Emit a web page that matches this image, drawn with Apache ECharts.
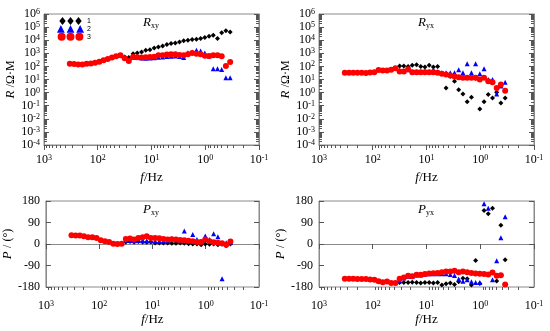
<!DOCTYPE html>
<html><head><meta charset="utf-8">
<script src="https://cdn.jsdelivr.net/npm/echarts@6/dist/echarts.min.js"></script>
<style>html,body{margin:0;padding:0;background:#fff}#c{width:550px;height:331px}</style>
</head><body><div id="c"></div>
<script>
// ---- frequencies (Hz) ----
const FREQ_3 = [331,276,231,193,161,134,112,93.4,78.0,65.1,54.3,45.4,37.8,31.6,26.4,22.0,18.4,15.3,12.8,10.7,8.91,7.44,6.21,5.18,4.33,3.61,3.01,2.52,2.10,1.75,1.46,1.22,1.02,0.850,0.710,0.592,0.494,0.413,0.344];
const FREQ_12 = [31.6,26.4,22.0,18.4,15.3,12.8,10.7,8.91,7.44,6.21,5.18,4.33,3.61,3.01,2.52,2.10,1.75,1.46,1.22,1.02,0.850,0.710,0.592,0.494,0.413,0.344];

// ---- apparent resistivity, log10(ohm·m) ----
const RXY_1_LOG = [2.72,2.67,2.97,3.03,3.10,3.23,3.28,3.41,3.49,3.56,3.67,3.74,3.79,3.87,3.95,4.0,4.05,4.08,4.13,4.21,4.31,4.38,4.13,4.56,4.72,4.62];
const RXY_2_LOG = [2.7,2.45,2.7,2.68,2.65,2.62,2.64,2.66,2.7,2.72,2.75,2.78,2.8,2.75,2.67,3.05,3.10,3.23,3.18,3.03,2.8,1.82,1.82,1.77,1.13,1.13];
const RXY_3_LOG = [2.21,2.18,2.15,2.15,2.21,2.23,2.28,2.36,2.46,2.56,2.67,2.77,2.85,2.62,2.41,2.72,2.69,2.67,2.69,2.72,2.74,2.85,2.85,2.90,2.92,2.92,2.87,2.85,2.92,3.03,2.97,2.92,2.82,2.79,2.85,2.85,2.77,2.03,2.33];
const RYX_1_LOG = [2.03,2.03,2.0,2.08,2.13,2.0,1.95,2.08,1.95,2.0,1.45,0.36,1.25,0.87,0.21,-0.1,-0.69,-0.36,1.1,-1.26,-0.69,-0.15,-0.41,0.03,-0.79,-0.41];
const RYX_2_LOG = [1.7,1.65,1.75,1.6,1.6,1.6,1.65,1.6,1.74,1.6,1.51,1.51,1.51,1.51,1.74,1.51,2.21,1.51,2.21,1.44,1.82,1.0,1.0,-0.1,0.5,0.79];
const RYX_3_LOG = [1.51,1.51,1.51,1.51,1.51,1.49,1.54,1.56,1.72,1.69,1.69,1.74,1.85,1.62,1.62,1.79,1.56,1.56,1.56,1.56,1.56,1.56,1.51,1.44,1.38,1.31,1.23,1.18,1.13,1.13,1.13,1.13,1.0,1.13,0.87,0.79,0.36,0.62,0.15];

// ---- phase (degrees) ----
const PXY_1 = [8.5,10,8.5,10,8.5,7,8.5,4.3,4.3,4.3,4.3,2.8,2.8,4.3,2.8,1.4,0,0,-2.8,0,-1.4,0,-2.8,-1.4,-7,0];
const PXY_2 = [16,15,14,15,14,14,14,13,12,12,13,23,21,12,54,12,40,18.5,10,33,18.5,43,30,-145,5,8];
const PXY_3 = [37,35.5,35.5,32.7,28.4,28.4,25.6,15.6,11.4,8.5,1.4,0,1.4,21,22.7,18.5,25.6,28.4,32,25.6,25.6,24,21,18.5,20,18.5,17,15.6,14,11.4,8.5,8.5,18.5,11.4,7,5.7,3,-3,10];
const PYX_1 = [-161,-161,-161,-160,-161,-163,-161,-161,-163,-161,-172,-166,-163,-170,-158,-143,-145,-172,-69,-165,140,127,150,-155,79,-66];
const PYX_2 = [-154,-142,-135,-136,-130,-130,-127,-125,-125,-125,-125,-125,-128,-132,-147,-156,-150,-158,-161,-161,168,150,-150,-70,26,114];
const PYX_3 = [-145,-145,-145,-146,-146,-147,-149,-150,-156,-160,-157,-163,-163,-145,-140,-133,-135,-129,-129,-126,-124,-122,-121,-118,-115,-115,-112,-118,-115,-118,-121,-124,-125,-126,-128,-119,-133,-131,-170];

// ---- axes / ticks ----
const X_RANGE = [0.1, 1000];
const R_RANGE = [1e-4, 1e6];
const P_RANGE = [-180, 180];
const P_INTERVAL = 90;
const MINOR_MULT = [2,3,4,5,6,7,8,9];
const X_DECADES = [0.1,1,10,100];
const R_DECADES = [1e-4,1e-3,1e-2,1e-1,1,10,100,1e3,1e4,1e5];
const SERIES_NAMES = ['1','2','3'];
const COLORS = ['#000000','#0000ff','#ff0000'];
const SYMBOLS = ['diamond','triangle','circle'];
const SYMBOL_SIZES = [5,5,6];
const TITLES = [['R','xy'],['R','yx'],['P','xy'],['P','yx']];

const MINOR_X = [];
X_DECADES.forEach(d => MINOR_MULT.forEach(m => MINOR_X.push(d*m)));
const MINOR_R = [];
R_DECADES.forEach(d => MINOR_MULT.forEach(m => MINOR_R.push(d*m)));

const FONT = 'Liberation Serif';
const AX = '#8a8a8a';
const TK = '#555';

const GRIDS = [
  {left:44, top:14, width:215, height:131},
  {left:319, top:14, width:215, height:131},
  {left:44, top:201, width:215, height:86},
  {left:319, top:201, width:215, height:86}
];

const powRich = {
  b:{fontFamily:FONT, fontSize:12, color:'#000'},
  s:{fontFamily:FONT, fontSize:8, color:'#000', verticalAlign:'top'}
};
function powFmt(v){ const e = Math.round(Math.log10(v)); return '{b|10}{s|' + e + '}'; }

const xAxes = GRIDS.map((g,i) => ({
  type:'log', gridIndex:i, min:X_RANGE[0], max:X_RANGE[1], inverse:true, logBase:10,
  axisLine:{show:true, lineStyle:{color:AX}},
  axisTick:{show:true, inside:false, length:5, lineStyle:{color:TK}},
  splitLine:{show:false},
  axisLabel:{margin: i<2 ? 9 : 13, formatter:powFmt, rich:powRich},
  name:'{i|f}{n|/Hz}', nameLocation:'middle', nameGap: i<2 ? 26 : 24,
  nameTextStyle:{rich:{i:{fontFamily:FONT, fontStyle:'italic', fontSize:13, color:'#000'}, n:{fontFamily:FONT, fontSize:13, color:'#000'}}}
}));

const yAxes = [];
GRIDS.forEach((g,i) => {
  const isR = i < 2;
  const base = isR
    ? {type:'log', min:R_RANGE[0], max:R_RANGE[1], logBase:10}
    : {type:'value', min:P_RANGE[0], max:P_RANGE[1], interval:P_INTERVAL};
  yAxes.push(Object.assign({}, base, {
    gridIndex:i, position:'left',
    axisLine:{show:true, lineStyle:{color:AX}},
    axisTick:{show:true, inside:true, length:5, lineStyle:{color:TK}},
    splitLine:{show:false},
    axisLabel: isR ? {margin:4, formatter:powFmt, rich:powRich}
                   : {margin:6, fontFamily:FONT, fontSize:12, color:'#000'},
    name: isR ? '{i|R} {n|/Ω·M}' : '{i|P} {n|/ (°)}',
    nameLocation:'middle', nameGap: isR ? 27 : 24,
    nameTextStyle:{rich:{i:{fontFamily:FONT, fontStyle:'italic', fontSize:13, color:'#000'}, n:{fontFamily:FONT, fontSize:12, color:'#000'}}}
  }));
  yAxes.push(Object.assign({}, base, {
    gridIndex:i, position:'right',
    axisLine:{show:true, lineStyle:{color:AX}},
    axisTick:{show:true, inside:true, length:5, lineStyle:{color:TK}},
    splitLine:{show:false}, axisLabel:{show:false}
  }));
});

const series = [];
const sets = [
  [RXY_1_LOG, RXY_2_LOG, RXY_3_LOG, true],
  [RYX_1_LOG, RYX_2_LOG, RYX_3_LOG, true],
  [PXY_1, PXY_2, PXY_3, false],
  [PYX_1, PYX_2, PYX_3, false]
];
sets.forEach((s,i) => {
  const isLog = s[3];
  [0,1,2].forEach(k => {
    const freqs = k === 2 ? FREQ_3 : FREQ_12;
    const vals = s[k];
    series.push({
      type:'scatter', name:SERIES_NAMES[k], xAxisIndex:i, yAxisIndex:2*i,
      symbol:SYMBOLS[k], symbolSize:SYMBOL_SIZES[k], z:3+k,
      itemStyle:{color:COLORS[k], opacity:1},
      data: freqs.map((f,j) => [f, isLog ? Math.pow(10, vals[j]) : vals[j]]),
      animation:false
    });
  });
  // minor x ticks on bottom edge
  const yb = isLog ? R_RANGE[0] : P_RANGE[0];
  series.push({
    type:'custom', xAxisIndex:i, yAxisIndex:2*i, silent:true, clip:false, animation:false,
    data: MINOR_X.map(v => [v, yb]),
    renderItem:(p, api) => {
      const c = api.coord([api.value(0), api.value(1)]);
      const x = Math.round(c[0]) + 0.5;
      return {type:'line', shape:{x1:x, y1:c[1], x2:x, y2:c[1]+3}, style:{stroke:TK, lineWidth:1}};
    }
  });
  if (isLog) {
    series.push({
      type:'custom', xAxisIndex:i, yAxisIndex:2*i, silent:true, clip:false, animation:false,
      data: MINOR_R.map(v => [X_RANGE[1], v]),
      renderItem:(p, api) => {
        const v = api.value(1);
        const l = api.coord([X_RANGE[1], v]);
        const r = api.coord([X_RANGE[0], v]);
        const y = Math.round(l[1]) + 0.5;
        return {type:'group', children:[
          {type:'line', shape:{x1:l[0], y1:y, x2:l[0]+3, y2:y}, style:{stroke:TK, lineWidth:1}},
          {type:'line', shape:{x1:r[0], y1:y, x2:r[0]-3, y2:y}, style:{stroke:TK, lineWidth:1}}
        ]};
      }
    });
  }
});

const titleRich = {
  i:{fontFamily:FONT, fontStyle:'italic', fontWeight:'normal', fontSize:13, color:'#000', lineHeight:15},
  s:{fontFamily:FONT, fontWeight:'normal', fontSize:8, color:'#000', verticalAlign:'bottom'}
};
const titlePos = [[143,15],[418,15],[143,202],[418,202]];
const titles = TITLES.map((t,i) => ({
  text:'{i|' + t[0] + '}{s|' + t[1] + '}', left:titlePos[i][0], top:titlePos[i][1], padding:0,
  textStyle:{fontWeight:'normal', rich:titleRich}
}));

const ICONS = [
  'path://M4,0L8,5L4,10L0,5Z M14,0L18,5L14,10L10,5Z M24,0L28,5L24,10L20,5Z',
  'path://M4,1L8,9L0,9Z M14,1L18,9L10,9Z M24,1L28,9L20,9Z',
  'path://M0,5A4.5,4.5 0 1 1 9,5A4.5,4.5 0 1 1 0,5Z M10,5A4.5,4.5 0 1 1 19,5A4.5,4.5 0 1 1 10,5Z M20,5A4.5,4.5 0 1 1 29,5A4.5,4.5 0 1 1 20,5Z'
];

const chart = echarts.init(document.getElementById('c'), null, {renderer:'canvas'});
chart.setOption({
  backgroundColor:'#fff',
  animation:false,
  title: titles,
  legend:{
    orient:'vertical', left:57, top:17, itemGap:0, itemWidth:27, itemHeight:8, padding:0,
    data: SERIES_NAMES.map((n,k) => ({name:n, icon:ICONS[k]})),
    textStyle:{fontFamily:'Liberation Sans', fontSize:7, color:'#000', padding:[0,0,0,-2]},
    selectedMode:false
  },
  grid: GRIDS.map(g => Object.assign({show:true, borderColor:AX, borderWidth:1, backgroundColor:'transparent'}, g)),
  xAxis: xAxes,
  yAxis: yAxes,
  series: series
});
</script></body></html>
